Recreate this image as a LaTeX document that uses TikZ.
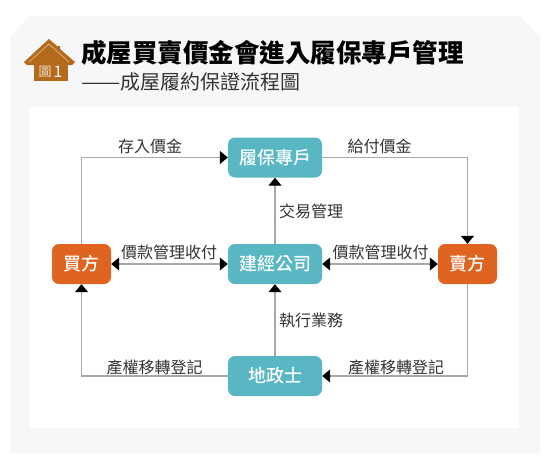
\documentclass[tikz,border=0pt]{standalone}
\usepackage{fontspec}
\setmainfont{Noto Sans CJK TC}
\newfontfamily\medcjk{Noto Sans CJK TC Medium}
\usetikzlibrary{arrows.meta}
\definecolor{panelgray}{HTML}{F6F7F9}
\definecolor{teal}{HTML}{58B7C2}
\definecolor{orangebox}{HTML}{DF6420}
\definecolor{housebrown}{HTML}{B56A1B}
\definecolor{linegray}{HTML}{A8A8A8}
\definecolor{labelgray}{HTML}{333333}
\tikzset{
 x=1pt,y=-1pt,
 box/.style={rounded corners=7pt,minimum height=40pt,inner sep=0pt,text=white,font=\fontsize{18}{19}\medcjk},
 tealbox/.style={box,fill=teal,minimum width=94pt},
 orangeb/.style={box,fill=orangebox,minimum width=59pt},
 conn/.style={draw=linegray,line width=1.1pt,-{Triangle[length=8pt,width=13pt,black]}},
 conn2/.style={draw=linegray,line width=1.1pt,{Triangle[length=8pt,width=13pt,black]}-{Triangle[length=8pt,width=13pt,black]}},
 lab/.style={text=labelgray,inner sep=0pt,font=\fontsize{16}{17}\selectfont},
}
\begin{document}
\begin{tikzpicture}
\useasboundingbox (0,0) rectangle (554,464);
\fill[white] (0,0) rectangle (554,464);
\fill[panelgray] (10,37) -- (30,16) -- (520,16) -- (540,37) -- (540,453) -- (10,453) -- cycle;
\fill[white] (30,107) rectangle (519,427.5);
% house icon
\fill[housebrown] (34,58) rectangle (68,81);
\fill[housebrown] (24,62) -- (49,39) -- (57,46) -- (60,46) -- (60,49) -- (75,62) -- (72,65) -- (27,65) -- cycle;
\draw[white!55!housebrown,line width=0.6pt] (29,62) -- (49,44) -- (69,62);
\node[text=white!80!housebrown,inner sep=0pt,font=\fontsize{13}{14}\selectfont] (iconA) at (45,71.5) {圖};
\node[text=white,inner sep=0pt,font=\fontsize{16}{17}\selectfont] (iconB) at (58,71.5) {1};
% titles
\node[anchor=west,inner sep=0pt,text=black,font=\fontsize{25.5}{27}\selectfont\bfseries] (title) at (81,53) {成屋買賣價金會進入履保專戶管理};
\node[anchor=west,inner sep=0pt,text=labelgray,font=\fontsize{20}{21}\selectfont] (subtitle) at (81,81.5) {\scalebox{1.17}[1]{——}成屋履約保證流程圖};
% nodes
\node[tealbox] (esc) at (275,157.5) {履保專戶};
\node[tealbox] (mgr) at (275,264) {建經公司};
\node[tealbox] (lnd) at (275,376) {地政士};
\node[orangeb] (buy) at (81.5,264) {買方};
\node[orangeb] (sel) at (467.5,264) {賣方};
% connectors
\draw[conn] (buy.north) |- (esc.west);
\draw[conn] (esc.east) -| (sel.north);
\draw[conn2] (buy.east) -- (mgr.west);
\draw[conn2] (mgr.east) -- (sel.west);
\draw[conn] (mgr.north) -- (esc.south);
\draw[conn] (lnd.north) -- (mgr.south);
\draw[conn] (lnd.west) -| (buy.south);
\draw[conn] (sel.south) |- (lnd.east);
% labels
\node[lab] (l1) at (150,146) {存入價金};
\node[lab] (l2) at (379.5,146) {給付價金};
\node[lab] (l3) at (169,252) {價款管理收付};
\node[lab] (l4) at (380.5,252) {價款管理收付};
\node[lab] (l5) at (311,211) {交易管理};
\node[lab] (l6) at (311,320) {執行業務};
\node[lab] (l7) at (154.5,367) {產權移轉登記};
\node[lab] (l8) at (396,367) {產權移轉登記};
\end{tikzpicture}
\end{document}
